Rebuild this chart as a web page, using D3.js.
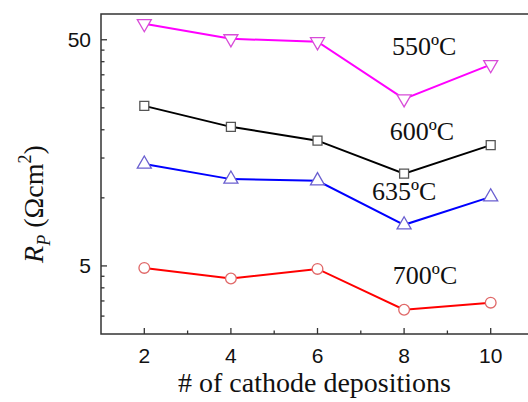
<!DOCTYPE html>
<html>
<head>
<meta charset="utf-8">
<script src="https://cdn.jsdelivr.net/npm/d3@7"></script>
<style>
  body { margin: 0; background: #fff; }
  svg { display: block; }
  .serif { font-family: "Times New Roman", Times, "Liberation Serif", Tinos, "Nimbus Roman", "Nimbus Roman No9 L", FreeSerif, "DejaVu Serif", "Noto Serif", serif; }
  .sans { font-family: Arial, "Liberation Sans", Helvetica, sans-serif; }
</style>
</head>
<body>
<div id="chart"></div>
<script>
// number of cathode depositions
const depositions = [2, 4, 6, 8, 10]
// polarization resistance, ohm cm2, per temperature
const rp550 = [58.9, 50.5, 49.0, 27.4, 38.8]
const rp600 = [25.5, 20.6, 17.9, 12.8, 17.1]
const rp635 = [14.1, 12.1, 11.9, 7.6, 10.1]
const rp700 = [4.9, 4.4, 4.85, 3.2, 3.44]
const tempLabels = ['550ºC', '600ºC', '635ºC', '700ºC']
// where each temperature label sits, in data units (deposition, Rp)
const labelX = [7.72, 7.67, 7.26, 7.74]
const labelY = [42.8, 18.0, 9.8, 4.15]
const xTicks = [2, 4, 6, 8, 10]
const xMinor = [3, 5, 7, 9]
const yTicks = [5, 50]
const yMinor = [3, 3.5, 4, 4.5, 10, 15, 20, 25, 30, 35, 40, 45]

const width = 528, height = 402
const margin = {left: 101, top: 14, right: -6, bottom: 68}

const series = [
    {values: rp550, line: '#ff00ff', mark: '#d84cd8', symbol: 'down'},
    {values: rp600, line: '#000000', mark: '#555555', symbol: 'square'},
    {values: rp635, line: '#0000ff', mark: '#6a5fd0', symbol: 'up'},
    {values: rp700, line: '#ff0000', mark: '#e06868', symbol: 'circle'}
]

const svg = d3.select('#chart').append('svg')
    .attr('width', width)
    .attr('height', height)

const x = d3.scaleLinear()
    .domain([1, 11])
    .range([margin.left, width - margin.right])
const y = d3.scaleLog()
    .domain([2.5, 65])
    .range([height - margin.bottom, margin.top])

const x0 = x.range()[0], x1 = x.range()[1]
const y0 = y.range()[0], y1 = y.range()[1]

// frame
svg.append('rect')
    .attr('x', x0).attr('y', y1)
    .attr('width', x1 - x0).attr('height', y0 - y1)
    .attr('fill', 'none')
    .attr('stroke', '#333')
    .attr('stroke-width', 1.5)

// inward ticks
const g = svg.append('g').attr('stroke', '#333').attr('stroke-width', 1.3)
g.selectAll('.xt').data(xTicks).enter().append('line')
    .attr('x1', d => x(d)).attr('x2', d => x(d))
    .attr('y1', y0).attr('y2', y0 - 6)
g.selectAll('.xm').data(xMinor).enter().append('line')
    .attr('x1', d => x(d)).attr('x2', d => x(d))
    .attr('y1', y0).attr('y2', y0 - 3.5)
g.selectAll('.yt').data(yTicks).enter().append('line')
    .attr('x1', x0).attr('x2', x0 + 6)
    .attr('y1', d => y(d)).attr('y2', d => y(d))
g.selectAll('.ym').data(yMinor).enter().append('line')
    .attr('x1', x0).attr('x2', x0 + 3.5)
    .attr('y1', d => y(d)).attr('y2', d => y(d))

// tick labels
svg.selectAll('.xl').data(xTicks).enter().append('text')
    .attr('class', 'sans')
    .attr('x', d => x(d))
    .attr('y', y0 + 29)
    .attr('text-anchor', 'middle')
    .attr('font-size', 21)
    .attr('fill', '#111')
    .text(d => d)
svg.selectAll('.yl').data(yTicks).enter().append('text')
    .attr('class', 'sans')
    .attr('x', x0 - 10)
    .attr('y', d => y(d))
    .attr('dy', '0.36em')
    .attr('text-anchor', 'end')
    .attr('font-size', 21)
    .attr('fill', '#111')
    .text(d => d)

// axis titles
svg.append('text')
    .attr('class', 'serif')
    .attr('x', (x0 + 528) / 2)
    .attr('y', 392)
    .attr('text-anchor', 'middle')
    .attr('font-size', 28)
    .attr('fill', '#111')
    .text('# of cathode depositions')

const yTitle = svg.append('text')
    .attr('class', 'serif')
    .attr('transform', 'translate(43,204) rotate(-90)')
    .attr('text-anchor', 'middle')
    .attr('font-size', 28)
    .attr('fill', '#111')
yTitle.append('tspan').attr('font-style', 'italic').text('R')
yTitle.append('tspan').attr('font-style', 'italic').attr('font-size', 18)
    .attr('dy', 7).text('P')
yTitle.append('tspan').attr('dy', -7).text(' (Ωcm')
yTitle.append('tspan').attr('font-size', 18).attr('dy', -12).text('2')
yTitle.append('tspan').attr('dy', 12).text(')')

// lines and markers
const line = d3.line()
    .x((d, i) => x(depositions[i]))
    .y(d => y(d))

const symbolType = {
    down: d3.symbolTriangle,
    up: d3.symbolTriangle,
    square: d3.symbolSquare,
    circle: d3.symbolCircle
}

series.forEach(s => {
    svg.append('path')
        .attr('d', line(s.values))
        .attr('fill', 'none')
        .attr('stroke', s.line)
        .attr('stroke-width', 2)

    const sym = d3.symbol().type(symbolType[s.symbol])
        .size(s.symbol === 'circle' ? 90 : s.symbol === 'square' ? 80 : 85)
    svg.append('g').selectAll('path')
        .data(s.values)
        .enter()
        .append('path')
        .attr('d', sym)
        .attr('transform', (d, i) => `translate(${x(depositions[i])},${y(d)})` +
            (s.symbol === 'down' ? ' rotate(180)' : ''))
        .attr('fill', '#fff')
        .attr('stroke', s.mark)
        .attr('stroke-width', 1.3)
})

// temperature labels
svg.selectAll('.tl').data(tempLabels).enter().append('text')
    .attr('class', 'serif')
    .attr('x', (d, i) => x(labelX[i]))
    .attr('y', (d, i) => y(labelY[i]))
    .attr('font-size', 26)
    .attr('fill', '#111')
    .text(d => d)
</script>
</body>
</html>
